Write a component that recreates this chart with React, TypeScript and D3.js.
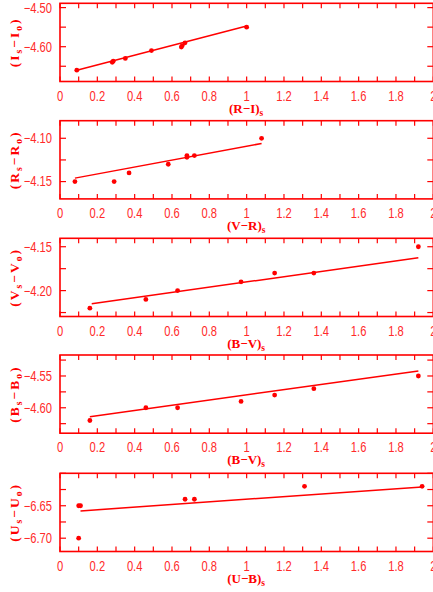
import React from "react";
import * as d3 from "d3";

// ---- data ----
const p1X = [0.09, 0.28, 0.285, 0.35, 0.49, 0.65, 0.655, 0.67, 1.0];
const p1Y = [-4.66, -4.64, -4.637, -4.63, -4.61, -4.601, -4.597, -4.59, -4.55];
const p1FitX = [0.09, 1.0];
const p1FitY = [-4.66, -4.547];

const p2X = [0.08, 0.29, 0.37, 0.58, 0.68, 0.68, 0.72, 1.08];
const p2Y = [-4.15, -4.15, -4.14, -4.13, -4.12, -4.122, -4.12, -4.1];
const p2FitX = [0.08, 1.08];
const p2FitY = [-4.146, -4.106];

const p3X = [0.16, 0.46, 0.63, 0.97, 1.15, 1.36, 1.92];
const p3Y = [-4.22, -4.21, -4.2, -4.19, -4.18, -4.18, -4.15];
const p3FitX = [0.17, 1.92];
const p3FitY = [-4.215, -4.1625];

const p4X = [0.16, 0.46, 0.63, 0.97, 1.15, 1.36, 1.92];
const p4Y = [-4.62, -4.6, -4.6, -4.59, -4.58, -4.57, -4.55];
const p4FitX = [0.16, 1.92];
const p4FitY = [-4.614, -4.542];

const p5X = [0.1, 0.11, 0.1, 0.67, 0.72, 1.31, 1.94];
const p5Y = [-6.65, -6.65, -6.7, -6.64, -6.64, -6.62, -6.62];
const p5FitX = [0.11, 1.94];
const p5FitY = [-6.658, -6.621];

const xTickLabels = ["0", "0.2", "0.4", "0.6", "0.8", "1", "1.2", "1.4", "1.6", "1.8", "2"];

const yLetters = ["I", "R", "V", "B", "U"];
const xTitles = [["R", "I"], ["V", "R"], ["B", "V"], ["B", "V"], ["U", "B"]];
const yDomains = [
  [-4.689, -4.489],
  [-4.17, -4.0797],
  [-4.2295, -4.1404],
  [-4.64, -4.517],
  [-6.7205, -6.6],
];
const yTickStep = [0.05, 0.025, 0.025, 0.025, 0.025];
const yLabelVals = [
  [-4.5, -4.6],
  [-4.1, -4.15],
  [-4.15, -4.2],
  [-4.55, -4.6],
  [-6.65, -6.7],
];

const panelsX = [p1X, p2X, p3X, p4X, p5X];
const panelsY = [p1Y, p2Y, p3Y, p4Y, p5Y];
const fitsX = [p1FitX, p2FitX, p3FitX, p4FitX, p5FitX];
const fitsY = [p1FitY, p2FitY, p3FitY, p4FitY, p5FitY];

// ---- layout ----
const W = 433;
const H = 592;
const left = 60;
const right = 433.3;
const tops = [3.3, 120.7, 238.3, 355, 473.3];
const ph = 78.2;
const RED = "#ff0000";
const TXT = "#ff2a2a";
const SANS = "'Liberation Sans', Arial, sans-serif";
const SERIF = "'Liberation Serif', 'Times New Roman', serif";
const NARROW = 0.8;

function Panel({ i }: { i: number }) {
  const top = tops[i];
  const bottom = top + ph;
  const x = d3.scaleLinear().domain([0, 2]).range([left, right]);
  const y = d3.scaleLinear().domain(yDomains[i]).range([bottom, top]);
  const xt = d3.range(0, 2.0001, 0.1);
  const [d0, d1] = yDomains[i];
  const st = yTickStep[i];
  const yt: number[] = [];
  for (let v = Math.ceil(d0 / st - 1e-6) * st; v <= d1 + 1e-9; v += st) yt.push(v);
  const line = d3
    .line<number>()
    .x((_, k) => x(fitsX[i][k]))
    .y((v) => y(v));
  const L = yLetters[i];
  const yc = (top + bottom) / 2;
  return (
    <g>
      <rect x={left} y={top} width={right - left} height={ph} fill="none" stroke={RED} strokeWidth={1.6} />
      {xt.map((v, k) => (
        <g key={"xt" + k}>
          <line x1={x(v)} x2={x(v)} y1={bottom} y2={bottom - 5} stroke={RED} strokeWidth={1.2} />
          <line x1={x(v)} x2={x(v)} y1={top} y2={top + 5} stroke={RED} strokeWidth={1.2} />
        </g>
      ))}
      {yt.map((v, k) => (
        <g key={"yt" + k}>
          <line x1={left} x2={left + 6} y1={y(v)} y2={y(v)} stroke={RED} strokeWidth={1.2} />
          <line x1={right} x2={right - 6} y1={y(v)} y2={y(v)} stroke={RED} strokeWidth={1.2} />
        </g>
      ))}
      {yLabelVals[i].map((v, k) => (
        <text
          key={"yl" + k}
          transform={`translate(52,${y(v) + 4.9}) scale(${NARROW},1)`}
          textAnchor="end"
          fontFamily={SANS}
          fontSize={14}
          fill={TXT}
        >
          {d3.format(".2f")(v)}
        </text>
      ))}
      {xTickLabels.map((s, k) => (
        <text
          key={"xl" + k}
          transform={`translate(${x(k * 0.2)},${bottom + 19}) scale(${NARROW},1)`}
          textAnchor="middle"
          fontFamily={SANS}
          fontSize={14}
          fill={TXT}
        >
          {s}
        </text>
      ))}
      <text x={(left + right) / 2 - 0.5} y={bottom + 31} textAnchor="middle" fontFamily={SERIF} fontSize={13} fill={RED} fontWeight="bold">
        {"(" + xTitles[i][0] + "\u2212" + xTitles[i][1] + ")"}
        <tspan fontSize={9.5} dy={3}>s</tspan>
      </text>
      <text
        transform={`translate(19,${yc}) rotate(-90)`}
        textAnchor="middle"
        fontFamily={SERIF}
        fontSize={13.5}
        fill={RED}
        fontWeight="bold"
        letterSpacing={2}
      >
        {"(" + L}
        <tspan fontSize={9.5} dy={3}>s</tspan>
        <tspan dy={-3}>{"\u2212" + L}</tspan>
        <tspan fontSize={9.5} dy={3}>o</tspan>
        <tspan dy={-3}>)</tspan>
      </text>
      <path d={line(fitsY[i]) || ""} fill="none" stroke={RED} strokeWidth={1.5} />
      {panelsX[i].map((v, k) => (
        <circle key={"p" + k} cx={x(v)} cy={y(panelsY[i][k])} r={2.4} fill={RED} />
      ))}
    </g>
  );
}

export default function App() {
  return (
    <svg
      width={W}
      height={H}
      style={{ position: "absolute", left: 0, top: 0, background: "#fff" }}
    >
      {[0, 1, 2, 3, 4].map((i) => (
        <Panel key={i} i={i} />
      ))}
    </svg>
  );
}
